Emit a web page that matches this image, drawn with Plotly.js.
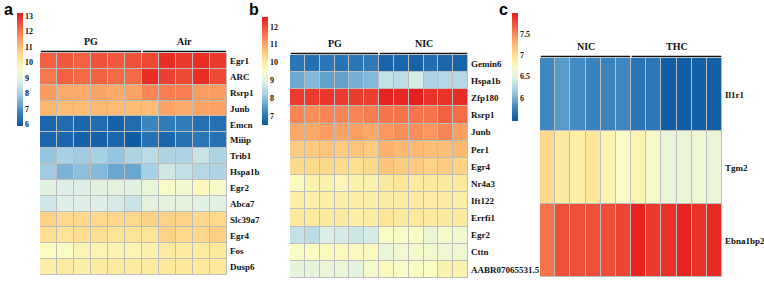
<!DOCTYPE html>
<html>
<head>
<meta charset="utf-8">
<script src="https://cdn.plot.ly/plotly-3.0.1.min.js"></script>
<style>html,body{margin:0;padding:0;background:#fff;}#chart{width:764px;height:281px;}</style>
</head>
<body>
<div id="chart"></div>
<script>
// ---------- Panel a ----------
const genesA = ['Egr1','ARC','Rsrp1','Junb','Emcn','Miiip','Trib1','Hspa1b','Egr2','Abca7','Slc39a7','Egr4','Fos','Dusp6'];
const groupsA = ['PG','Air'];
const groupSizesA = [6,5];
const valuesA = [
  [12.3,12.4,12.3,12.5,12.4,12.5, 12.6,12.95,12.8,12.95,12.8],
  [12.0,12.3,12.2,12.3,12.2,12.2, 12.95,12.7,12.6,12.95,12.6],
  [11.5,11.3,11.3,11.4,11.3,11.4, 11.8,11.9,11.9,11.5,11.5],
  [11.1,11.0,11.0,11.05,11.0,11.0, 11.0,11.4,11.3,11.35,11.4],
  [6.2,6.3,6.2,6.3,6.1,6.3, 6.8,6.6,6.6,6.4,6.4],
  [6.2,6.2,6.1,6.1,6.2,6.0, 6.4,6.2,6.4,6.5,6.4],
  [7.8,8.0,7.9,8.0,7.8,8.1, 8.3,8.1,8.1,8.5,8.1],
  [7.9,7.5,7.7,7.6,7.3,7.3, 8.0,8.6,8.4,8.2,8.1],
  [8.9,8.8,8.8,8.9,9.0,8.9, 9.1,9.5,9.3,9.7,9.4],
  [8.6,8.8,8.8,8.8,8.7,8.5, 9.0,9.0,9.0,8.9,8.9],
  [10.6,10.5,10.5,10.5,10.5,10.5, 10.6,10.6,10.6,10.5,10.5],
  [10.4,10.3,10.4,10.4,10.3,10.3, 10.3,10.6,10.5,10.5,10.7],
  [9.6,9.5,9.8,9.8,9.8,9.8, 9.9,10.1,10.1,10.1,10.2],
  [10.0,10.1,10.0,10.1,10.1,10.1, 10.1,10.2,10.2,10.2,10.2]
];
const ticksA = [6,7,8,9,10,11,12,13];
const rangeA = [5.9,13.2];

// ---------- Panel b ----------
const genesB = ['Gemin6','Hspa1b','Zfp180','Rsrp1','Junb','Per1','Egr4','Nr4a3','Ift122','Errfi1','Egr2','Cttn','AABR07065531.5'];
const groupsB = ['PG','NIC'];
const groupSizesB = [6,6];
const valuesB = [
  [7.0,6.9,7.0,6.95,7.0,7.05, 6.7,6.75,6.7,6.85,6.75,6.7],
  [7.7,7.9,7.6,7.6,7.8,7.9, 8.6,8.5,8.8,8.3,8.4,8.4],
  [12.2,12.2,12.25,12.2,12.2,12.15, 12.45,12.4,12.5,12.3,12.3,12.35],
  [11.4,11.3,11.4,11.4,11.4,11.5, 11.6,11.6,11.6,11.6,11.8,11.7],
  [11.0,11.0,11.1,11.05,11.1,11.0, 11.2,11.3,11.3,11.2,11.4,11.1],
  [10.5,10.5,10.6,10.5,10.6,10.5, 10.9,10.8,10.8,10.7,10.7,10.8],
  [10.3,10.3,10.3,10.3,10.2,10.3, 10.6,10.5,10.5,10.4,10.5,10.4],
  [9.6,9.8,9.8,9.7,9.8,9.8, 10.0,10.1,10.0,10.0,10.0,10.0],
  [9.9,9.85,9.9,9.9,9.9,9.9, 9.95,9.95,10.0,9.9,9.95,9.9],
  [10.0,10.0,10.0,10.0,9.9,9.95, 10.1,10.0,10.05,10.0,10.0,10.0],
  [8.6,8.5,8.9,8.8,8.7,8.8, 9.5,9.5,9.5,9.2,9.4,9.3],
  [9.5,9.55,9.6,9.6,9.6,9.6, 9.2,9.35,9.4,9.35,9.3,9.3],
  [9.1,9.1,9.2,9.2,9.05,9.4, 9.6,9.5,9.5,9.5,9.8,9.8]
];
const ticksB = [7,8,9,10,11,12];
const rangeB = [6.5,12.55];

// ---------- Panel c ----------
const genesC = ['Il1r1','Tgm2','Ebna1bp2'];
const groupsC = ['NIC','THC'];
const groupSizesC = [6,6];
const valuesC = [
  [5.78,5.88,5.8,5.76,5.76,5.78, 5.66,5.68,5.5,5.5,5.52,5.52],
  [7.05,6.92,6.88,6.97,6.82,6.7, 6.82,6.68,6.58,6.58,6.62,6.58],
  [7.6,7.75,7.75,7.75,7.75,7.8, 7.95,7.85,7.88,7.95,7.88,7.92]
];
const ticksC = [6,6.5,7,7.5];
const rangeC = [5.46,7.99];

// ---------- styling ----------
const W = 764, H = 281;
const serif = 'Liberation Serif, Times New Roman, serif';
const cscale = [
  [0.00,'#0b57a2'],
  [0.12,'#3a84bf'],
  [0.28,'#a3cfe4'],
  [0.40,'#def0e6'],
  [0.50,'#fbfcc4'],
  [0.60,'#fee597'],
  [0.72,'#fdb46e'],
  [0.85,'#f5704a'],
  [1.00,'#e41a1c']
];

const panels = [
  {genes:genesA, vals:valuesA, groups:groupsA, sizes:groupSizesA, ticks:ticksA, range:rangeA,
   box:[40,227,53,275], cb:[17,13,126], letter:['a',8]},
  {genes:genesB, vals:valuesB, groups:groupsB, sizes:groupSizesB, ticks:ticksB, range:rangeB,
   box:[290,468,55,278], cb:[262,17,125], letter:['b',254]},
  {genes:genesC, vals:valuesC, groups:groupsC, sizes:groupSizesC, ticks:ticksC, range:rangeC,
   box:[540,722,58,277], cb:[512,13,121], letter:['c',503]}
];

const data = [];
const layout = {
  width: W, height: H,
  margin: {l:0,r:0,t:0,b:0},
  paper_bgcolor: '#ffffff',
  plot_bgcolor: '#bdbdbd',
  showlegend: false,
  font: {family: serif, color: '#111', size: 9},
  shapes: [], annotations: []
};

panels.forEach((p, i) => {
  const n = i === 0 ? '' : String(i+1);
  const ncol = p.vals[0].length;
  const cols = p.vals[0].map((_, j) => j);
  data.push({
    type: 'heatmap',
    z: p.vals, x: cols, y: p.genes,
    xaxis: 'x' + n, yaxis: 'y' + n,
    zmin: p.range[0], zmax: p.range[1],
    colorscale: cscale,
    xgap: 1, ygap: 1,
    hoverinfo: 'skip',
    colorbar: {
      x: p.cb[0]/W, xanchor: 'left',
      y: 1 - p.cb[2]/H, yanchor: 'bottom',
      len: (p.cb[2]-p.cb[1])/H, lenmode: 'fraction',
      thickness: 6, outlinewidth: 0, xpad: 0, ypad: 0,
      tickvals: p.ticks, ticks: '', ticklabelposition: 'outside',
      tickfont: {family: serif, size: 8, color: '#111', weight: 'bold'}
    }
  });
  const b = p.box;
  layout['xaxis' + n] = {
    domain: [b[0]/W, b[1]/W], anchor: 'y' + n,
    range: [-0.5, ncol - 0.5], showgrid: false, zeroline: false,
    showticklabels: false, ticks: '', fixedrange: true
  };
  layout['yaxis' + n] = {
    domain: [1 - b[3]/H, 1 - b[2]/H], anchor: 'x' + n,
    autorange: 'reversed', side: 'right', type: 'category',
    showgrid: false, zeroline: false, ticks: '', ticklabelstandoff: 2,
    tickfont: {family: serif, size: 9, color: '#111', weight: 'bold'},
    fixedrange: true
  };
  // group bars + labels
  let start = -0.5;
  p.groups.forEach((g, k) => {
    const end = start + p.sizes[k];
    layout.shapes.push({
      type: 'line', xref: 'x' + n, yref: 'paper',
      x0: start + 0.05, x1: end - 0.05,
      y0: 1 - (b[2]-1.5)/H, y1: 1 - (b[2]-1.5)/H,
      line: {color: '#111', width: 1.6}
    });
    layout.annotations.push({
      text: '<b>' + g + '</b>', xref: 'x' + n, yref: 'paper',
      x: (start + end)/2, y: 1 - (b[2]-4)/H, yanchor: 'bottom',
      showarrow: false, font: {family: serif, size: 10, color: '#111'}
    });
    start = end;
  });
  layout.annotations.push({
    text: '<b>' + p.letter[0] + '</b>', xref: 'paper', yref: 'paper',
    x: p.letter[1]/W, y: 1 - 10/H, xanchor: 'center', yanchor: 'middle',
    showarrow: false, font: {family: 'Liberation Sans, Arial, sans-serif', size: 16, color: '#000'}
  });
});

Plotly.newPlot('chart', data, layout, {displayModeBar: false, staticPlot: true});
</script>
</body>
</html>
